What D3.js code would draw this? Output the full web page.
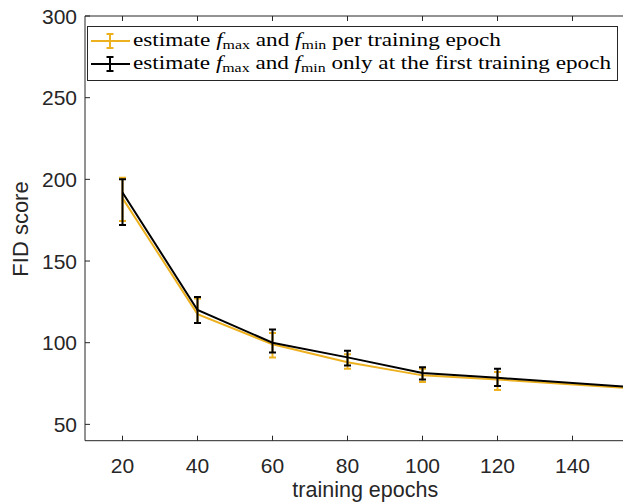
<!DOCTYPE html>
<html>
<head>
<meta charset="utf-8">
<script src="https://cdn.jsdelivr.net/npm/d3@7"></script>
<style>
  body { margin: 0; background: #fff; }
  svg { display: block; overflow: hidden; }
</style>
</head>
<body>
<div id="chart"></div>
<script>
// data
const epochs = [20, 40, 60, 80, 100, 120, 160];

const perEpochMean  = [188.5, 117.5, 99, 88, 80, 77.5, 71.5];
const perEpochLow   = [174.5, 112, 91, 84, 76, 71, 68];
const perEpochHigh  = [201, 127, 106, 93, 84, 82, 75];

const firstEpochMean = [192, 120, 100, 91, 81.5, 78.5, 72.2];
const firstEpochLow  = [172, 112, 94, 86, 77.5, 73.5, 68];
const firstEpochHigh = [200, 128, 108, 95, 85, 84, 76];

const xTicks = [20, 40, 60, 80, 100, 120, 140];
const yTicks = [50, 100, 150, 200, 250, 300];

const seriesNames = ["per training epoch", "only at the first training epoch"];
const seriesColors = ["#EDB120", "#000000"];

const width = 623, height = 502;
const mLeft = 85, mTop = 16, mRight = 647.5, mBottom = 440.7;
const axisColor = "#262626";
const sans = "'Liberation Sans', Arial, Helvetica, sans-serif";

const svg = d3.select("#chart").append("svg")
    .attr("width", width)
    .attr("height", height);

const x = d3.scaleLinear().domain([10, 160]).range([mLeft, mRight]);
const y = d3.scaleLinear().domain([40, 300]).range([mBottom, mTop]);

svg.append("defs").append("clipPath").attr("id", "plotclip")
    .append("rect")
    .attr("x", mLeft).attr("y", mTop)
    .attr("width", mRight - mLeft).attr("height", mBottom - mTop);

// axes box (left, bottom, top)
const box = svg.append("g").attr("stroke", axisColor).attr("stroke-width", 1).attr("fill", "none");
box.append("line").attr("x1", mLeft).attr("x2", mLeft).attr("y1", mTop).attr("y2", mBottom);
box.append("line").attr("x1", mLeft).attr("x2", mRight).attr("y1", mBottom).attr("y2", mBottom);
box.append("line").attr("x1", mLeft).attr("x2", mRight).attr("y1", mTop).attr("y2", mTop);

// inward ticks
box.selectAll(".xtb").data(xTicks).enter().append("line")
    .attr("x1", d => x(d)).attr("x2", d => x(d))
    .attr("y1", mBottom).attr("y2", mBottom - 5);
box.selectAll(".xtt").data(xTicks).enter().append("line")
    .attr("x1", d => x(d)).attr("x2", d => x(d))
    .attr("y1", mTop).attr("y2", mTop + 5);
box.selectAll(".yt").data(yTicks).enter().append("line")
    .attr("x1", mLeft).attr("x2", mLeft + 5)
    .attr("y1", d => y(d)).attr("y2", d => y(d));

// tick labels
svg.selectAll(".xl").data(xTicks).enter().append("text")
    .attr("x", d => x(d)).attr("y", 472.5)
    .attr("text-anchor", "middle")
    .style("font-family", sans)
    .style("font-size", "21px")
    .attr("fill", axisColor)
    .text(d => d);

svg.selectAll(".yl").data(yTicks).enter().append("text")
    .attr("x", 77).attr("y", d => y(d) + 7.5)
    .attr("text-anchor", "end")
    .style("font-family", sans)
    .style("font-size", "21px")
    .attr("fill", axisColor)
    .text(d => d);

svg.append("text")
    .attr("x", x(85) - 1).attr("y", 497)
    .attr("text-anchor", "middle")
    .style("font-family", sans)
    .style("font-size", "21.5px")
    .attr("fill", axisColor)
    .text("training epochs");

svg.append("text")
    .attr("transform", "translate(28," + 229 + ") rotate(-90)")
    .attr("text-anchor", "middle")
    .style("font-family", sans)
    .style("font-size", "22px")
    .attr("fill", axisColor)
    .text("FID score");

// series
const series = [
    { mean: perEpochMean, low: perEpochLow, high: perEpochHigh, color: seriesColors[0] },
    { mean: firstEpochMean, low: firstEpochLow, high: firstEpochHigh, color: seriesColors[1] }
];

const plot = svg.append("g").attr("clip-path", "url(#plotclip)");
const line = d3.line().x(d => x(d[0])).y(d => y(d[1]));
const cap = 3.5;

series.forEach(s => {
    const g = plot.append("g");
    g.append("path")
        .datum(epochs.map((e, i) => [e, s.mean[i]]))
        .attr("d", line)
        .attr("fill", "none")
        .attr("stroke", s.color)
        .attr("stroke-width", 2);

    const bars = g.selectAll(".eb").data(epochs).enter().append("g")
        .attr("stroke", s.color).attr("stroke-width", 2);
    bars.append("line")
        .attr("x1", d => x(d)).attr("x2", d => x(d))
        .attr("y1", (d, i) => y(s.low[i])).attr("y2", (d, i) => y(s.high[i]));
    bars.append("line")
        .attr("x1", d => x(d) - cap).attr("x2", d => x(d) + cap)
        .attr("y1", (d, i) => y(s.low[i])).attr("y2", (d, i) => y(s.low[i]));
    bars.append("line")
        .attr("x1", d => x(d) - cap).attr("x2", d => x(d) + cap)
        .attr("y1", (d, i) => y(s.high[i])).attr("y2", (d, i) => y(s.high[i]));
});

// legend
const legend = svg.append("g");
legend.append("rect")
    .attr("x", 87.5).attr("y", 26.5)
    .attr("width", 530).attr("height", 54)
    .attr("fill", "#fff")
    .attr("stroke", axisColor)
    .attr("stroke-width", 1);

const rowY = [41, 64];
const rowLen = [368, 478];
seriesNames.forEach((name, i) => {
    const cy = rowY[i];
    const g = legend.append("g").attr("stroke", seriesColors[i]).attr("stroke-width", 2);
    g.append("line").attr("x1", 91).attr("x2", 130).attr("y1", cy).attr("y2", cy);
    g.append("line").attr("x1", 110).attr("x2", 110).attr("y1", cy - 7).attr("y2", cy + 7);
    g.append("line").attr("x1", 110 - cap).attr("x2", 110 + cap).attr("y1", cy - 7).attr("y2", cy - 7);
    g.append("line").attr("x1", 110 - cap).attr("x2", 110 + cap).attr("y1", cy + 7).attr("y2", cy + 7);

    const t = legend.append("text")
        .attr("x", 133).attr("y", cy + 5)
        .style("font-family", "'Liberation Serif', 'Times New Roman', serif")
        .style("font-size", "19px")
        .attr("fill", "#000")
        .attr("textLength", rowLen[i])
        .attr("lengthAdjust", "spacingAndGlyphs");
    t.append("tspan").text("estimate ");
    t.append("tspan").attr("font-style", "italic").text("f");
    t.append("tspan").style("font-size", "13px").attr("dy", 3).text("max");
    t.append("tspan").attr("dy", -3).text(" and ");
    t.append("tspan").attr("font-style", "italic").text("f");
    t.append("tspan").style("font-size", "13px").attr("dy", 3).text("min");
    t.append("tspan").attr("dy", -3).text(" " + name);
});
</script>
</body>
</html>
